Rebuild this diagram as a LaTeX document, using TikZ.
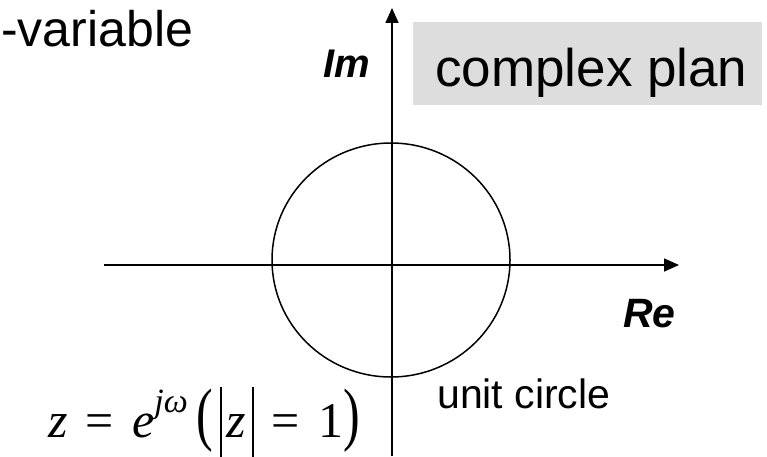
\documentclass[tikz,border=0pt]{standalone}
\usepackage{fontspec}
\setmainfont{Liberation Sans}
\newfontfamily\tnr{Liberation Serif}
\usetikzlibrary{arrows.meta}
\definecolor{boxgray}{RGB}{221,221,221}
\tikzset{
  axisline/.style={line width=1.6pt, -{Triangle[length=15pt,width=13pt]}},
  lbl/.style={inner sep=0pt, text=black},
}
\newcommand{\eqsp}{\hspace{0.36em}}
\begin{document}
\begin{tikzpicture}[x=1pt,y=1pt]
\useasboundingbox (0,0) rectangle (767,456);
% gray box with title
\node[lbl, fill=boxgray, minimum width=349pt, minimum height=83pt, anchor=south west] (boxbg) at (413,351) {};
\node[lbl, anchor=base west, font=\fontsize{53}{60}\selectfont] (title) at (435,369) {complex plan};
% top-left text
\node[lbl, anchor=base west, font=\fontsize{50}{60}\selectfont] (zvar) at (1,409) {-variable};
% axes
\coordinate (yb) at (392,0);
\coordinate (yt) at (392,448);
\coordinate (xl) at (104,191);
\coordinate (xr) at (679,191);
\draw[axisline] (yb) -- (yt);
\draw[axisline] (xl) -- (xr);
% unit circle
\coordinate (c) at (391,196);
\draw[line width=1.5pt] (c) ellipse [x radius=119, y radius=117];
% labels
\node[lbl, anchor=base west, font=\fontsize{40}{46}\selectfont\bfseries\itshape] (im) at (323,378) {Im};
\node[lbl, anchor=base west, font=\fontsize{41}{48}\selectfont\bfseries\itshape] (re) at (623,129) {Re};
\node[lbl, anchor=base west, font=\fontsize{41}{48}\selectfont] (uc) at (437,48) {unit circle};
% formula
\node[lbl, anchor=base east, font=\tnr\fontsize{50}{60}\selectfont] (formula) at (360,19)
  {\textit{z}\eqsp=\eqsp\textit{e}\raisebox{0.5em}{\fontsize{34}{38}\selectfont\textit{jω}}\,\scalebox{1}[1.4]{(}\hspace{0.15em}\rule[-20pt]{1.6pt}{70pt}\hspace{0.1em}\textit{z}\hspace{0.12em}\rule[-20pt]{1.6pt}{70pt}\eqsp=\eqsp 1\scalebox{1}[1.4]{)}};
\end{tikzpicture}
\end{document}
